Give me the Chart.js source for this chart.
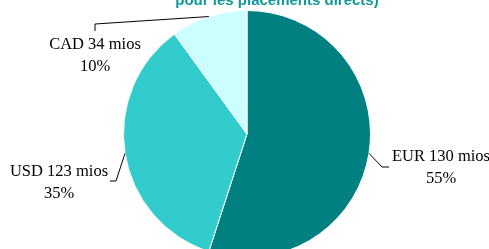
<!DOCTYPE html>
<html>
<head>
<meta charset="utf-8">
<script src="https://cdn.jsdelivr.net/npm/chart.js@4.4.1/dist/chart.umd.min.js"></script>
<style>
  html, body { margin: 0; padding: 0; background: #fff; overflow: hidden; }
  #wrap { position: relative; width: 489px; height: 268px; }
</style>
</head>
<body>
<div id="wrap"><canvas id="pieChart"></canvas></div>
<script>
// --- DATA ---
const currencies = ['EUR', 'USD', 'CAD'];
const amounts = [130, 123, 34];       // mios
const shares = [55, 35, 10];          // %
const sliceColors = ['#008080', '#33CCCC', '#CCFFFF'];
const titleText = 'pour les placements directs)';

// label placement (text centre + leader elbow), per slice
const labelLayout = [
    { x: 441, y: 157, elbow: [382, 167], end: [389, 167] },
    { x: 59,  y: 172, elbow: [116, 181], end: [110, 181] },
    { x: 95,  y: 45,  elbow: [95, 24],  end: [95, 31] }
];

const serif = '"Liberation Serif", "Times New Roman", serif';

// draws the leader lines + two-line labels from the arc geometry
const calloutPlugin = {
    id: 'callouts',
    afterDatasetsDraw(chart) {
        const ctx = chart.ctx;
        const arcs = chart.getDatasetMeta(0).data;
        ctx.save();
        arcs.forEach((arc, i) => {
            const mid = (arc.startAngle + arc.endAngle) / 2;
            const ax = arc.x + Math.cos(mid) * arc.outerRadius;
            const ay = arc.y + Math.sin(mid) * arc.outerRadius;
            const L = labelLayout[i];

            ctx.strokeStyle = '#000';
            ctx.lineWidth = 1;
            ctx.beginPath();
            ctx.moveTo(ax, ay);
            ctx.lineTo(L.elbow[0], L.elbow[1]);
            ctx.lineTo(L.end[0], L.end[1]);
            ctx.stroke();

            ctx.fillStyle = '#000';
            ctx.font = '16.5px ' + serif;
            ctx.textAlign = 'center';
            ctx.textBaseline = 'middle';
            ctx.fillText(currencies[i] + ' ' + amounts[i] + ' mios', L.x, L.y);
            ctx.fillText(shares[i] + '%', L.x, L.y + 22);
        });

        // cut-off title at the very top
        ctx.fillStyle = '#119999';
        ctx.font = 'bold 15px "Liberation Sans", Arial, sans-serif';
        ctx.textAlign = 'center';
        ctx.textBaseline = 'alphabetic';
        ctx.fillText(titleText, 277, 5);
        ctx.restore();
    }
};

document.addEventListener('DOMContentLoaded', () => {
    const ctx = document.getElementById('pieChart');
    new Chart(ctx, {
        type: 'pie',
        data: {
            labels: currencies,
            datasets: [{
                data: shares,
                backgroundColor: sliceColors,
                borderColor: '#ffffff',
                borderWidth: 1
            }]
        },
        options: {
            responsive: true,
            maintainAspectRatio: false,
            animation: false,
            layout: { padding: { left: 123, right: 118, top: 10, bottom: 10 } },
            plugins: {
                legend: { display: false },
                tooltip: { enabled: false },
                title: { display: false }
            }
        },
        plugins: [calloutPlugin]
    });
});
</script>
</body>
</html>
